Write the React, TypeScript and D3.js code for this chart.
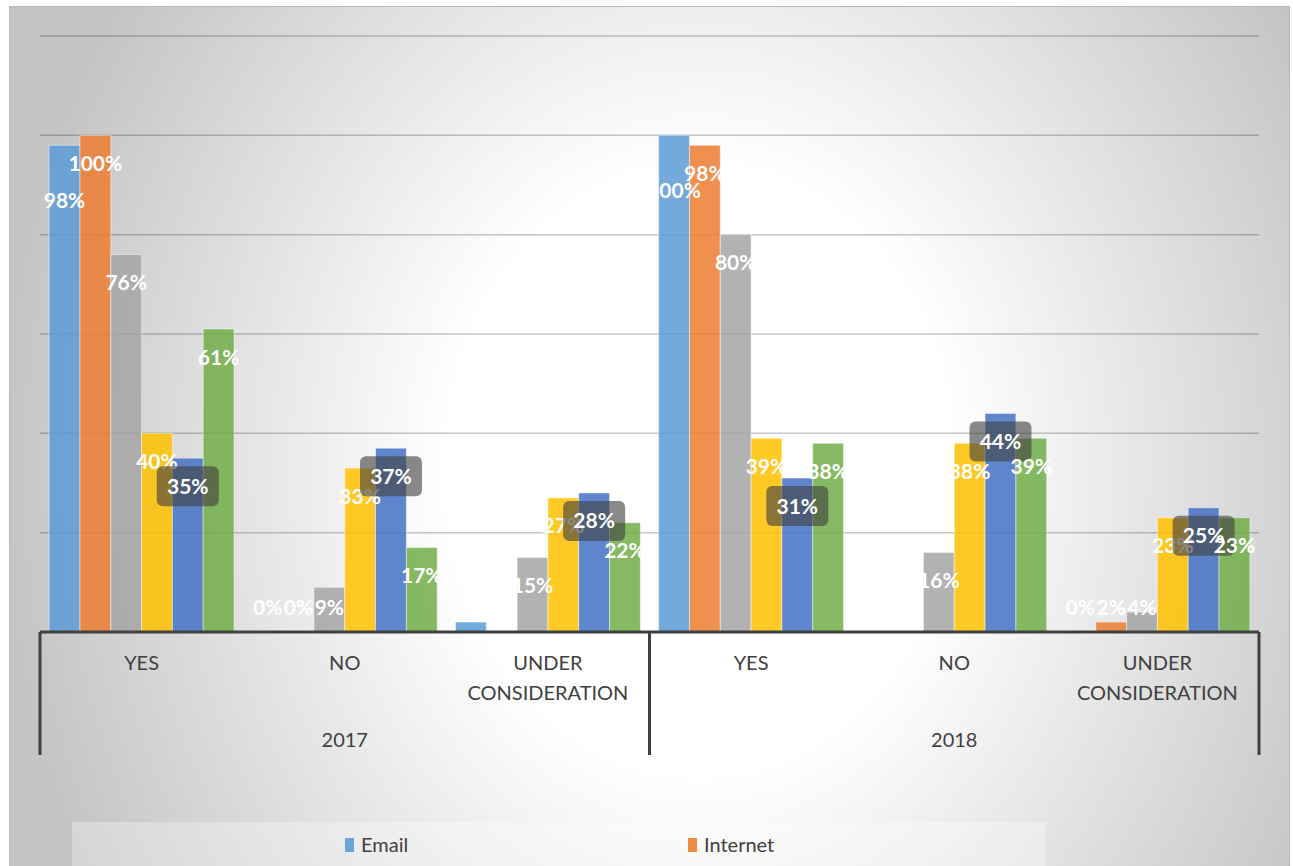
import React from "react";
import * as d3 from "d3";

const years = ["2017", "2018"];
const answers = ["YES", "NO", "UNDER CONSIDERATION"];
const seriesNames = ["Email", "Internet", "Series 3", "Series 4", "Series 5", "Series 6"];
const seriesColors = ["#5b9bd5", "#ed7d31", "#a5a5a5", "#ffc000", "#4472c4", "#70ad47"];

// values per series, order: 2017 YES, NO, UNDER CONSIDERATION, 2018 YES, NO, UNDER CONSIDERATION
const emailValues = [0.98, 0.0, 0.02, 1.0, 0.0, 0.0];
const internetValues = [1.0, 0.0, 0.0, 0.98, 0.0, 0.02];
const series3Values = [0.76, 0.09, 0.15, 0.8, 0.16, 0.04];
const series4Values = [0.4, 0.33, 0.27, 0.39, 0.38, 0.23];
const series5Values = [0.35, 0.37, 0.28, 0.31, 0.44, 0.25];
const series6Values = [0.61, 0.17, 0.22, 0.38, 0.39, 0.23];
const seriesValues = [emailValues, internetValues, series3Values, series4Values, series5Values, series6Values];

const yTicks = [0.2, 0.4, 0.6, 0.8, 1.0, 1.2];
const boxedSeries = 4; // index of series whose labels sit in dark boxes
const legendShown = 2;

const W = 1293;
const H = 866;
const FONT = "Lato, 'Open Sans', 'DejaVu Sans', sans-serif";

export default function App() {
  const left = 40;
  const right = 1259;
  const top = 36;
  const base = 632;

  const cats = years.flatMap((yr) => answers.map((a) => `${yr}|${a}`));
  const x0 = d3.scaleBand<string>().domain(cats).range([left, right]).padding(0);
  const gw = x0.bandwidth();
  const x1 = d3
    .scaleBand<string>()
    .domain(seriesNames)
    .range([gw * 0.045, gw * 0.955])
    .padding(0);
  const y = d3.scaleLinear().domain([0, 1.2]).range([base, top]);
  const fmt = d3.format(".0%");

  const labelOffset = (si: number) => (si === 0 ? 55 : 28);

  const yearWidth = gw * answers.length;

  return (
    <div style={{ position: "absolute", left: 0, top: 0 }}>
      <svg width={W} height={H} style={{ display: "block" }}>
        <defs>
          <radialGradient
            id="bg"
            gradientUnits="userSpaceOnUse"
            cx={700}
            cy={470}
            r={700}
            gradientTransform="translate(700 470) scale(1 1.2) translate(-700 -470)"
          >
            <stop offset="0" stopColor="#ffffff" />
            <stop offset="0.36" stopColor="#ffffff" />
            <stop offset="1" stopColor="#c4c4c4" />
          </radialGradient>
        </defs>
        <rect x={0} y={0} width={W} height={H} fill="#ffffff" />
        <rect x={9.5} y={6.5} width={1280} height={880} fill="url(#bg)" stroke="#b8b8b8" strokeWidth={1} />

        {/* gridlines */}
        {yTicks.map((t) => (
          <line
            key={t}
            x1={left}
            x2={right}
            y1={y(t)}
            y2={y(t)}
            stroke="#000"
            strokeOpacity={0.22}
            strokeWidth={1.5}
          />
        ))}

        {/* bars */}
        {seriesValues.map((vals, si) =>
          vals.map((v, ci) => {
            const bx = (x0(cats[ci]) as number) + (x1(seriesNames[si]) as number);
            const bw = x1.bandwidth();
            if (v <= 0) return null;
            return (
              <rect
                key={`b${si}-${ci}`}
                x={bx}
                y={y(v)}
                width={bw}
                height={base - y(v)}
                fill={seriesColors[si]}
                fillOpacity={0.85}
                stroke="#ffffff"
                strokeOpacity={0.45}
                strokeWidth={1}
              />
            );
          })
        )}

        {/* axis */}
        <line x1={left} x2={right} y1={base} y2={base} stroke="#404040" strokeWidth={3} />
        {[0, 1, 2].map((i) => {
          const xx = left + i * yearWidth;
          return <line key={i} x1={xx} x2={xx} y1={base} y2={755} stroke="#404040" strokeWidth={3} />;
        })}
        {cats.map((c, ci) => {
          const cx = (x0(c) as number) + gw / 2;
          const lines = answers[ci % answers.length].split(" ");
          return (
            <text key={c} x={cx} textAnchor="middle" fontFamily={FONT} fontSize={20} fill="#404040">
              {lines.map((ln, li) => (
                <tspan key={li} x={cx} y={670 + li * 30}>
                  {ln}
                </tspan>
              ))}
            </text>
          );
        })}
        {years.map((yr, i) => (
          <text
            key={yr}
            x={left + i * yearWidth + yearWidth / 2}
            y={747}
            textAnchor="middle"
            fontFamily={FONT}
            fontSize={20}
            fill="#404040"
          >
            {yr}
          </text>
        ))}

        {/* data labels */}
        {seriesValues.map((vals, si) =>
          vals.map((v, ci) => {
            const cx = (x0(cats[ci]) as number) + (x1(seriesNames[si]) as number) + x1.bandwidth() / 2;
            const ly = Math.min(y(v) + labelOffset(si), base - 25);
            return (
              <g key={`l${si}-${ci}`}>
                {si === boxedSeries && (
                  <rect x={cx - 31} y={ly - 20} width={62} height={40} rx={6} fill="#404040" fillOpacity={0.62} />
                )}
                <text
                  x={cx}
                  y={ly}
                  dy="0.36em"
                  textAnchor="middle"
                  fontFamily={FONT}
                  fontWeight={700}
                  fontSize={21}
                  fill="#ffffff"
                >
                  {fmt(v)}
                </text>
              </g>
            );
          })
        )}

        {/* legend */}
        <rect x={72} y={822} width={974} height={60} fill="#ffffff" fillOpacity={0.3} />
        {seriesNames.slice(0, legendShown).map((nm, i) => {
          const lx = 345 + i * 343;
          return (
            <g key={nm}>
              <rect x={lx} y={838} width={9} height={14} fill={seriesColors[i]} fillOpacity={0.9} />
              <text x={lx + 16} y={845} dy="0.36em" fontFamily={FONT} fontSize={20} fill="#404040">
                {nm}
              </text>
            </g>
          );
        })}
      </svg>
    </div>
  );
}
